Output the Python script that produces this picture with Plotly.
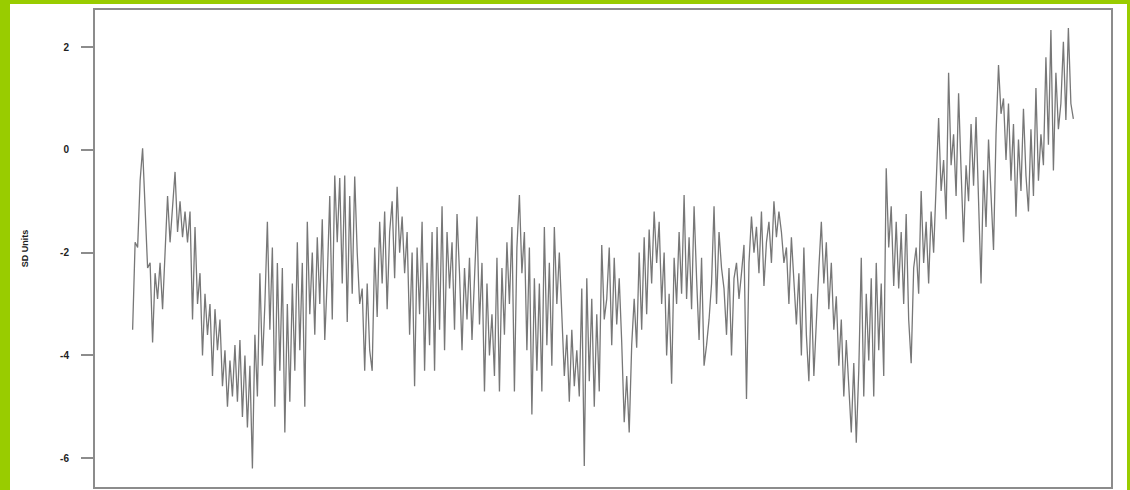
import plotly.graph_objects as go

# Series values (SD units), in order left to right
sd_part1 = [-3.5, -1.8, -1.9, -0.6, 0.03, -1.0, -2.3, -2.2, -3.75, -2.4, -2.9, -2.2, -3.1,
            -2.0, -0.9, -1.8, -1.2, -0.43, -1.6, -1.0, -1.7, -1.2, -1.8, -1.2, -3.3, -1.5, -3.0,
            -2.4, -4.0, -2.8, -3.6, -3.0, -4.4, -3.1, -3.9, -3.3, -4.6, -3.9, -5.0, -4.1, -4.8,
            -3.8, -4.9, -3.7, -5.2, -4.0, -5.4, -4.2, -6.2, -3.6, -4.8, -2.4, -4.2, -3.0,
            -1.4, -3.5, -1.9, -5.0, -2.2, -4.3, -2.3, -5.5]
sd_part2 = [-3.0, -4.9, -2.6, -4.3, -1.8, -3.9, -2.2, -5.0, -1.4, -3.2, -2.0, -3.6, -1.7, -3.0,
            -1.35, -3.7, -2.5, -0.9, -3.3, -0.5, -1.8, -0.55, -2.6, -0.5, -3.35, -0.9, -2.8,
            -0.52, -2.0, -3.0, -2.7, -4.3, -2.6, -3.9, -4.3, -1.9, -3.25, -1.4, -2.6, -1.2, -3.1,
            -1.6, -1.0, -2.5, -0.72, -2.0, -1.3, -2.4, -1.6, -3.6, -2.0, -4.6, -1.9, -3.2,
            -1.4, -4.3, -2.2, -3.8, -1.6, -4.3, -1.5, -3.5]
sd_part3 = [-1.1, -3.9, -1.6, -2.7, -1.8, -3.5, -1.25, -2.4, -3.9, -2.3, -3.3, -2.1, -3.7, -2.6,
            -1.3, -3.4, -2.2, -4.7, -2.6, -4.0, -3.2, -4.4, -2.1, -4.7, -2.3, -3.6, -1.8,
            -3.0, -1.5, -4.7, -1.9, -0.88, -2.4, -1.6, -3.9, -1.9, -5.15, -2.5, -4.3, -2.6,
            -4.7, -1.5, -3.8, -2.2, -4.2, -1.5, -3.0, -2.0, -3.3, -4.4, -3.6, -4.9, -3.5, -4.6,
            -3.9, -4.8, -2.7, -6.15, -2.5, -4.5, -2.9, -5.0]
sd_part4 = [-3.2, -4.7, -1.85, -3.3, -2.9, -1.9, -3.8, -2.1, -3.4, -2.5, -3.75, -5.3, -4.4, -5.5,
            -3.8, -2.9, -3.85, -2.0, -3.5, -1.7, -3.2, -1.55, -2.6, -1.2, -2.2, -1.4, -3.0,
            -2.0, -4.0, -2.8, -4.55, -2.1, -3.0, -1.6, -2.8, -0.88, -2.9, -1.7, -3.1, -1.1,
            -2.5, -3.7, -2.1, -4.2, -3.8, -3.3, -2.6, -1.1, -3.0, -1.6, -2.3, -2.7, -3.6, -2.3,
            -4.0, -2.5, -2.2, -2.9, -2.4, -1.85, -4.85, -2.2]
sd_part5 = [-1.3, -2.0, -1.5, -2.4, -1.2, -2.65, -1.8, -1.4, -2.2, -1.0, -1.7, -1.2, -1.6, -2.2,
            -1.9, -3.0, -1.7, -2.6, -3.4, -2.4, -4.0, -1.9, -3.6, -4.5, -2.8, -4.4, -3.2, -2.3,
            -1.4, -2.6, -1.8, -3.1, -2.2, -3.5, -2.85, -4.2, -3.3, -4.8, -3.7, -4.7, -5.5, -4.15,
            -5.7, -4.3, -2.1, -4.8, -2.8, -4.1, -2.5, -4.8, -2.2, -3.9, -2.6, -4.4, -0.36,
            -1.9, -1.1, -2.65, -1.4]
sd_part6 = [-2.7, -1.6, -3.0, -1.25, -3.3, -4.15, -2.3, -1.9, -2.8, -0.8, -2.2, -1.4, -2.6, -1.2,
            -2.0, -0.5, 0.62, -0.8, -0.2, -1.35, 1.5, -0.3, 0.3, -0.9, 1.1, -0.4, -1.8, -0.3,
            -1.0, 0.5, -0.7, 0.64, -1.2, -2.6, -0.4, -1.5, 0.2, -0.9, -1.95, 0.3, 1.65, 0.7, 1.0,
            -0.2, 0.9, -0.6, 0.5, -1.3, 0.2, -0.8, 0.8, -0.5, -1.2, 0.4, -0.9, 1.2, -0.6, 0.3,
            -0.3, 1.8, 0.1, 2.33, -0.4, 1.5, 0.4, 0.9, 2.1, 0.58, 2.37, 0.9, 0.6]

y_ticks = [2, 0, -2, -4, -6]
y_tick_labels = ["2", "0", "-2", "-4", "-6"]
y_title = "SD Units"

values = sd_part1 + sd_part2 + sd_part3 + sd_part4 + sd_part5 + sd_part6
x = list(range(len(values)))
n = len(values)
pad = 0.04 * (n - 1)

fig = go.Figure()
fig.add_trace(go.Scatter(x=x, y=values, mode="lines",
                         line=dict(color="#777777", width=1.3),
                         hoverinfo="skip", showlegend=False))

frame_color = "#8c8c8c"
fig.update_layout(
    width=1130, height=490,
    margin=dict(l=95, r=19, t=10, b=3),
    paper_bgcolor="#99cc00",
    plot_bgcolor="white",
    font=dict(family="Liberation Sans, Arial, sans-serif", color="#222222"),
    shapes=[dict(type="rect", xref="paper", yref="paper",
                 x0=(10 - 95) / 1016, x1=(1127 - 95) / 1016,
                 y0=-0.02, y1=(487 - 4) / 477,
                 fillcolor="white", line=dict(width=0), layer="below")],
    xaxis=dict(range=[-pad, n - 1 + pad], showticklabels=False, ticks="",
               showgrid=False, zeroline=False, showline=True, mirror=True,
               linecolor=frame_color, linewidth=2),
    yaxis=dict(range=[-6.56, 2.72], tickvals=y_ticks, ticktext=y_tick_labels,
               ticks="outside", ticklen=12, tickcolor=frame_color, tickwidth=1.5,
               tickfont=dict(size=10, family="Liberation Sans, Arial, sans-serif",
                             color="#222222", weight="bold"),
               ticklabelstandoff=10,
               showgrid=False, zeroline=False, showline=True, mirror=True,
               linecolor=frame_color, linewidth=2,
               title=dict(text=y_title, standoff=30,
                          font=dict(size=9, color="#222222", weight="bold"))),
)

fig.write_html("out.html", config={"displayModeBar": False},
               post_script="document.body.style.margin='0';document.body.style.overflow='hidden';")
